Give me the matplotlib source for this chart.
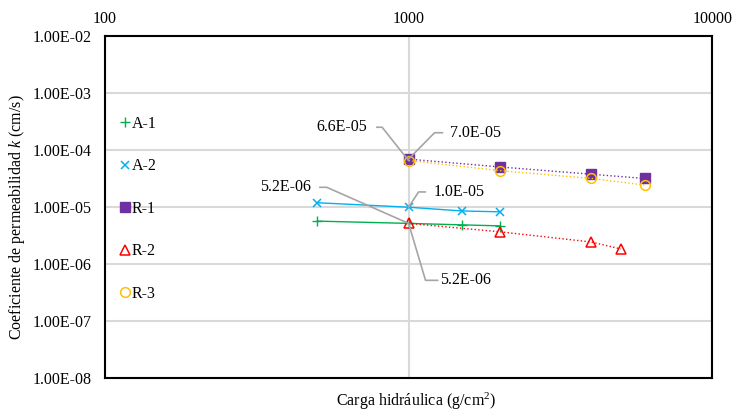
import numpy as np
import matplotlib
matplotlib.use("Agg")
import matplotlib.pyplot as plt
from matplotlib.ticker import FixedLocator, FuncFormatter

plt.rcParams['font.family'] = ['Liberation Serif', 'DejaVu Serif']
plt.rcParams['mathtext.fontset'] = 'custom'
plt.rcParams['mathtext.rm'] = 'Liberation Serif'
plt.rcParams['mathtext.it'] = 'Liberation Serif:italic'

# data
load_A1 = [500, 1000, 1500, 2000]
k_A1 = [5.7e-6, 5.2e-6, 4.9e-6, 4.7e-6]
load_A2 = [500, 1000, 1500, 2000]
k_A2 = [1.2e-5, 1.0e-5, 8.6e-6, 8.3e-6]
load_R1 = [1000, 2000, 4000, 6000]
k_R1 = [7.0e-5, 5.1e-5, 3.8e-5, 3.2e-5]
load_R2 = [1000, 2000, 4000, 5000]
k_R2 = [5.2e-6, 3.7e-6, 2.45e-6, 1.85e-6]
load_R3 = [1000, 2000, 4000, 6000]
k_R3 = [6.6e-5, 4.4e-5, 3.2e-5, 2.45e-5]

x_ticks = [100, 1000, 10000]
y_ticks = [1e-8, 1e-7, 1e-6, 1e-5, 1e-4, 1e-3, 1e-2]

# (label, x, y, offset in points, side, gap, arm length)
notes = [
    ('6.6E-05', 1000, 6.6e-5, (-29.5, 24), 'left', 6.5, 14.5),
    ('7.0E-05', 1000, 7.0e-5, (29.5, 19), 'right', 5, 15),
    ('5.2E-06', 1000, 5.2e-6, (-70.5, 26), 'left', 6.5, 16),
    ('1.0E-05', 1000, 1.0e-5, (18, 11), 'right', 5.8, 15),
    ('5.2E-06', 1000, 5.2e-6, (23, -41), 'right', 2, 15),
]

fs = 11.5

fig = plt.figure(figsize=(7.35, 4.11), dpi=100)
ax = fig.add_axes([0.1429, 0.0803, 0.826, 0.831])

ax.plot(load_A1, k_A1, color='#00B050', lw=1.0, marker='+', ms=7, mew=1.0, label='A-1', zorder=3)
ax.plot(load_A2, k_A2, color='#00B0F0', lw=1.0, marker='x', ms=6, mew=1.1, label='A-2', zorder=3)
ax.plot(load_R1, k_R1, color='#7030A0', lw=1.0, ls=':', marker='s', ms=6.5, label='R-1', zorder=3)
ax.plot(load_R2, k_R2, color='#FF0000', lw=1.0, ls=':', marker='^', ms=7, mfc='none', mew=1.1, label='R-2', zorder=3)
ax.plot(load_R3, k_R3, color='#FFC000', lw=1.0, ls=':', marker='o', ms=7, mfc='none', mew=1.1, label='R-3', zorder=4)

ax.set_xscale('log')
ax.set_yscale('log')
ax.set_xlim(100, 10000)
ax.set_ylim(1e-8, 1e-2)
ax.xaxis.set_major_locator(FixedLocator(x_ticks))
ax.xaxis.set_minor_locator(FixedLocator([]))
ax.yaxis.set_major_locator(FixedLocator(y_ticks))
ax.yaxis.set_minor_locator(FixedLocator([]))
ax.xaxis.set_major_formatter(FuncFormatter(lambda v, p: '%d' % v))
ax.yaxis.set_major_formatter(FuncFormatter(lambda v, p: ('%.2E' % v)))
ax.xaxis.tick_top()
ax.tick_params(axis='both', length=0, labelsize=fs, colors='black')
ax.tick_params(axis='x', pad=7)
ax.tick_params(axis='y', pad=10)
ax.grid(True, color='#D9D9D9', lw=1.5, zorder=0)
ax.set_axisbelow(True)
for s in ax.spines.values():
    s.set_linewidth(1.5)
    s.set_color('black')

ax.set_xlabel('Carga hidráulica (g/cm$^{2}$)', fontsize=fs)
ax.xaxis.set_label_position('bottom')
ax.xaxis.set_label_coords(0.513, -0.036)
ax.set_ylabel('Coeficiente de permeabilidad $k$ (cm/s)', fontsize=fs)
ax.yaxis.set_label_coords(-0.129, 0.471)

for text, xv, yv, off, side, gap, arm in notes:
    if side == 'left':
        ha, rel, ang = 'right', (1, 0.5), 0
    else:
        ha, rel, ang = 'left', (0, 0.5), 180
    ax.annotate(text, xy=(xv, yv), xytext=off, textcoords='offset points',
                ha=ha, va='center', fontsize=fs,
                arrowprops=dict(arrowstyle='-', color='#A5A5A5', lw=1.2,
                                relpos=rel, patchA=None, shrinkA=gap, shrinkB=0,
                                connectionstyle='arc,angleA=%d,armA=%g,angleB=0,armB=0,rad=0' % (ang, arm)),
                zorder=5)

leg = ax.legend(loc='upper left', bbox_to_anchor=(0.006, 0.8), frameon=False,
                fontsize=fs, handlelength=0.6, handletextpad=0.15,
                labelspacing=1.66, borderaxespad=0.3)
for h in leg.legend_handles:
    h.set_linestyle('none')

fig.savefig('out.png', dpi=100)
